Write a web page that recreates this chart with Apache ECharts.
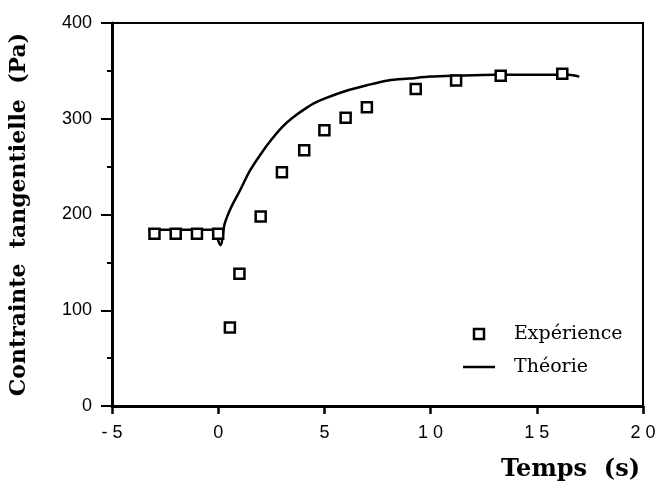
<!DOCTYPE html>
<html>
<head>
<meta charset="utf-8">
<script src="https://cdn.jsdelivr.net/npm/echarts@6/dist/echarts.min.js"></script>
<style>html,body{margin:0;padding:0;background:#fff}#c{width:659px;height:491px}</style>
</head>
<body>
<div id="c"></div>
<script>
// Experimental points (time s, shear stress Pa)
var expTime = [-3, -2, -1, 0, 0.55, 1, 2, 3, 4.05, 5, 6, 7, 9.3, 11.2, 13.3, 16.2];
var expStress = [180, 180, 180, 180, 82, 138, 198, 244, 267, 288, 301, 312, 331, 340, 345, 347];
// Theory curve
var thTime = [-3.3, -0.3, 0.1, 0.3, 0.6, 1, 1.5, 2, 2.5, 3, 3.5, 4, 4.5, 5, 6, 7, 8, 9, 10, 11.2, 13, 16.5, 17];
var thStress = [184, 184, 168, 190, 207, 224, 246, 263, 278, 291, 301, 309, 316, 321, 329, 335, 340, 342, 344, 345, 346, 346, 344];
var xTickLabels = {'-5': '- 5', '0': '0', '5': '5', '10': '1 0', '15': '1 5', '20': '2 0'};
var seriesNames = ['Expérience', 'Théorie'];

function zip(a, b) { return a.map(function (v, i) { return [v, b[i]]; }); }

var chart = echarts.init(document.getElementById('c'));
chart.setOption({
  animation: false,
  backgroundColor: '#fff',
  grid: { left: 109, right: 16, top: 23, bottom: 85, show: true, borderColor: '#000', borderWidth: 2 },
  xAxis: {
    type: 'value', min: -5, max: 20, interval: 5,
    name: 'Temps  (s)', nameLocation: 'end', nameGap: -3,
    nameTextStyle: { fontFamily: 'DejaVu Serif', fontWeight: 'bold', fontSize: 24, color: '#000', align: 'right', verticalAlign: 'top', padding: [52, 0, 0, 0] },
    axisLine: { onZero: false, lineStyle: { color: '#000', width: 3 } },
    axisTick: { show: true, inside: false, length: 8, lineStyle: { color: '#000', width: 2.5 } },
    axisLabel: { margin: 18, fontFamily: 'Liberation Sans', fontSize: 18, color: '#000',
      formatter: function (v) { return xTickLabels[String(v)] || String(v); } },
    splitLine: { show: false }
  },
  yAxis: {
    type: 'value', min: 0, max: 400, interval: 100,
    name: 'Contrainte  tangentielle  (Pa)', nameLocation: 'middle', nameGap: 82, nameRotate: 90,
    nameTextStyle: { fontFamily: 'DejaVu Serif', fontWeight: 'bold', fontSize: 22, color: '#000' },
    axisLine: { onZero: false, lineStyle: { color: '#000', width: 3 } },
    axisTick: { show: true, inside: false, length: 11, lineStyle: { color: '#000', width: 2 } },
    minorTick: { show: true, splitNumber: 2, length: 5, lineStyle: { color: '#000', width: 2 } },
    axisLabel: { margin: 20, fontFamily: 'Liberation Sans', fontSize: 18, color: '#000' },
    splitLine: { show: false }
  },
  legend: {
    orient: 'vertical', left: 458, top: 318, itemWidth: 32, itemHeight: 10, itemGap: 11,
    symbolKeepAspect: true,
    textStyle: { fontFamily: 'DejaVu Serif', fontSize: 19, color: '#000', lineHeight: 22, padding: [0, 0, 0, 14] },
    data: [
      { name: seriesNames[0], icon: 'path://M0,0H10V10H0Z', itemStyle: { color: '#fff', borderColor: '#000', borderWidth: 2.5 } },
      { name: seriesNames[1], icon: 'path://M0,0H32V2.5H0Z', itemStyle: { color: '#000', borderWidth: 0 } }
    ]
  },
  series: [
    {
      name: seriesNames[1], type: 'line', data: zip(thTime, thStress), symbol: 'none',
      smooth: 0.3, lineStyle: { color: '#000', width: 2.5 }, itemStyle: { color: '#000' }, z: 3
    },
    {
      name: seriesNames[0], type: 'scatter', data: zip(expTime, expStress), symbol: 'rect', symbolSize: 10,
      itemStyle: { color: '#fff', borderColor: '#000', borderWidth: 2.5, opacity: 1 }, z: 4
    }
  ]
});
</script>
</body>
</html>
